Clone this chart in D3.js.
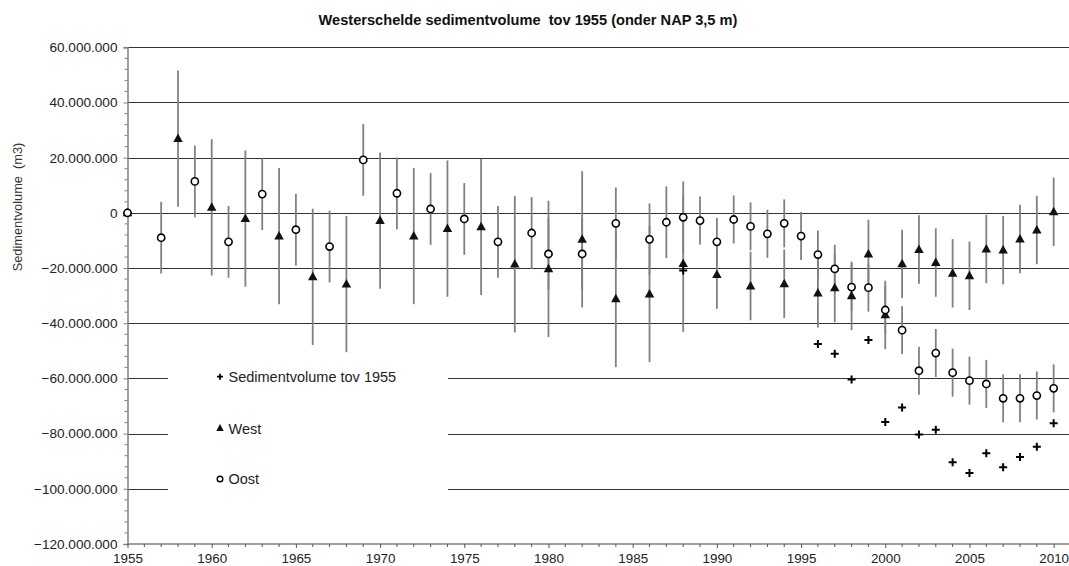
<!DOCTYPE html>
<html>
<head>
<meta charset="utf-8">
<script src="https://cdn.jsdelivr.net/npm/d3@7"></script>
<style>
  html, body { margin: 0; padding: 0; background: #fff; }
  svg { display: block; font-family: "Liberation Sans", Arial, sans-serif; }
</style>
</head>
<body>
<svg id="chart" width="1069" height="566"></svg>
<script>
// ---- data (values in millions of m3) ----
const oostYears = [1955,1957,1959,1961,1963,1965,1967,1969,1971,1973,1975,1977,1979,1980,1982,1984,1986,1987,1988,1989,1990,1991,1992,1993,1994,1995,1996,1997,1998,1999,2000,2001,2002,2003,2004,2005,2006,2007,2008,2009,2010];
const oostValues = [0,-9.0,11.4,-10.5,6.8,-6.1,-12.2,19.2,7.1,1.4,-2.2,-10.5,-7.3,-14.9,-14.9,-3.8,-9.6,-3.4,-1.6,-2.8,-10.5,-2.4,-4.9,-7.6,-3.8,-8.4,-15.1,-20.3,-26.9,-27.1,-35.2,-42.5,-57.2,-50.8,-57.9,-60.8,-62.0,-67.2,-67.2,-66.2,-63.6];
const oostErrors = [0,13,13,13,13,13,13,13,13,13,13,13,13,13,13,13,13,13,13,8.7,8.7,8.7,8.7,8.7,8.7,8.7,8.7,8.7,8.7,8.7,8.7,8.7,8.7,8.7,8.7,8.7,8.7,8.7,8.7,8.7,8.7];

const westYears = [1955,1958,1960,1962,1964,1966,1968,1970,1972,1974,1976,1978,1980,1982,1984,1986,1988,1990,1992,1994,1996,1997,1998,1999,2000,2001,2002,2003,2004,2005,2006,2007,2008,2009,2010];
const westValues = [0,26.9,2.0,-2.1,-8.4,-23.2,-25.8,-2.8,-8.4,-5.7,-5.1,-18.6,-20.3,-9.6,-31.2,-29.4,-18.4,-22.4,-26.5,-25.7,-29.1,-27.2,-30.1,-14.9,-37.0,-18.5,-13.3,-18.0,-21.9,-22.8,-13.1,-13.5,-9.5,-6.2,0.4];
const westErrors = [0,24.7,24.7,24.7,24.7,24.7,24.7,24.7,24.7,24.7,24.7,24.7,24.7,24.7,24.7,24.7,24.7,12.4,12.4,12.4,12.4,12.4,12.4,12.4,12.4,12.4,12.4,12.4,12.4,12.4,12.4,12.4,12.4,12.4,12.4];

const sedYears = [1955,1988,1996,1997,1998,1999,2000,2001,2002,2003,2004,2005,2006,2007,2008,2009,2010];
const sedValues = [0,-20.9,-47.5,-51.1,-60.4,-46.1,-75.8,-70.5,-80.3,-78.6,-90.4,-94.3,-87.1,-92.2,-88.5,-84.8,-76.2];

const yTicks = [-120,-100,-80,-60,-40,-20,0,20,40,60];
const xTicks = [1955,1960,1965,1970,1975,1980,1985,1990,1995,2000,2005,2010];
const legendLabels = ["Sedimentvolume tov 1955","West","Oost"];
const titleText = "Westerschelde sedimentvolume\u00a0\u00a0tov 1955 (onder NAP 3,5 m)";
const yAxisLabel = "Sedimentvolume\u00a0\u00a0(m3)";

// ---- layout ----
const svg = d3.select("#chart");
const x = d3.scaleLinear().domain([1955, 2011]).range([127.5, 1070.5]);
const y = d3.scaleLinear().domain([-120, 60]).range([544, 47.3]);
const left = x(1955), right = 1069;

const loc = d3.formatLocale({decimal: ",", thousands: ".", grouping: [3], currency: ["", ""]});
const fmt = loc.format(",d");

// gridlines
svg.append("g").selectAll("line").data(yTicks.filter(d => d > -120)).join("line")
  .attr("x1", left).attr("x2", right)
  .attr("y1", d => Math.round(y(d)) + 0.5).attr("y2", d => Math.round(y(d)) + 0.5)
  .attr("stroke", "#333").attr("stroke-width", 1.1);

// y axis
const yAxis = d3.axisLeft(y).tickValues(yTicks).tickSize(4).tickPadding(6)
  .tickFormat(d => fmt(d * 1e6));
const gy = svg.append("g").attr("transform", `translate(${left},0)`).call(yAxis);
gy.select(".domain").attr("stroke", "#808080").attr("stroke-width", 1.5);
gy.selectAll(".tick line").attr("stroke", "#808080");
gy.selectAll(".tick text").attr("font-size", 13.6).attr("fill", "#222")
  .attr("font-family", "Liberation Sans, Arial, sans-serif");
// y minor ticks
const yMinor = d3.range(-120, 60.01, 4).filter(v => !yTicks.includes(v));
svg.append("g").selectAll("line").data(yMinor).join("line")
  .attr("x1", left - 3).attr("x2", left)
  .attr("y1", d => y(d)).attr("y2", d => y(d))
  .attr("stroke", "#808080").attr("stroke-width", 1);

// x axis
const xAxis = d3.axisBottom(x).tickValues(xTicks).tickSize(4).tickPadding(5).tickFormat(d3.format("d"));
const gx = svg.append("g").attr("transform", `translate(0,${y(-120)})`).call(xAxis);
gx.select(".domain").attr("stroke", "#808080").attr("stroke-width", 1.5).attr("d", `M${left},0H${right}`);
gx.selectAll(".tick line").attr("stroke", "#555");
gx.selectAll(".tick text").attr("font-size", 13.4).attr("fill", "#222")
  .attr("font-family", "Liberation Sans, Arial, sans-serif");
const xMinor = d3.range(1956, 2011).filter(v => !xTicks.includes(v));
svg.append("g").selectAll("line").data(xMinor).join("line")
  .attr("x1", d => x(d)).attr("x2", d => x(d))
  .attr("y1", y(-120)).attr("y2", y(-120) + 3)
  .attr("stroke", "#555").attr("stroke-width", 1);

// legend background (hides gridlines)
svg.append("rect").attr("x", 168).attr("y", 352).attr("width", 280).attr("height", 146).attr("fill", "#fff");

// error bars
const errG = svg.append("g").attr("stroke", "#808080").attr("stroke-width", 1.8);
function errBars(years, vals, errs) {
  errG.selectAll(null).data(years.map((yr, i) => ({yr, v: vals[i], e: errs[i]})).filter(d => d.e > 0))
    .join("line")
    .attr("x1", d => x(d.yr)).attr("x2", d => x(d.yr))
    .attr("y1", d => y(d.v + d.e)).attr("y2", d => y(d.v - d.e));
}
errBars(westYears, westValues, westErrors);
errBars(oostYears, oostValues, oostErrors);

// markers
const plusPath = s => `M${-s},0H${s}M0,${-s}V${s}`;
const triPath = (w, h) => `M0,${-h * 0.6}L${w / 2},${h * 0.4}L${-w / 2},${h * 0.4}Z`;

svg.append("g").selectAll("path").data(sedYears.map((yr, i) => ({yr, v: sedValues[i]}))).join("path")
  .attr("transform", d => `translate(${x(d.yr)},${y(d.v)})`)
  .attr("d", plusPath(4)).attr("stroke", "#000").attr("stroke-width", 2).attr("fill", "none");

svg.append("g").selectAll("path").data(westYears.map((yr, i) => ({yr, v: westValues[i]}))).join("path")
  .attr("transform", d => `translate(${x(d.yr)},${y(d.v)})`)
  .attr("d", triPath(9.5, 8.5)).attr("fill", "#111");

svg.append("g").selectAll("circle").data(oostYears.map((yr, i) => ({yr, v: oostValues[i]}))).join("circle")
  .attr("cx", d => x(d.yr)).attr("cy", d => y(d.v)).attr("r", 3.6)
  .attr("fill", "#fff").attr("stroke", "#000").attr("stroke-width", 1.6);

// legend
const legY = [376.7, 428.3, 479];
const lg = svg.append("g");
lg.append("path").attr("transform", `translate(220,${legY[0]})`).attr("d", plusPath(3))
  .attr("stroke", "#000").attr("stroke-width", 1.8);
lg.append("path").attr("transform", `translate(220,${legY[1]})`).attr("d", triPath(7.5, 7)).attr("fill", "#111");
lg.append("circle").attr("cx", 220).attr("cy", legY[2]).attr("r", 2.8)
  .attr("fill", "#fff").attr("stroke", "#000").attr("stroke-width", 1.4);
lg.selectAll("text").data(legendLabels).join("text")
  .attr("x", 228.5).attr("y", (d, i) => legY[i] + 5.2)
  .attr("font-size", 14.5).attr("fill", "#222").text(d => d);

// title
svg.append("text").attr("x", 528).attr("y", 25).attr("text-anchor", "middle")
  .attr("font-size", 14.6).attr("font-weight", "bold").attr("fill", "#111").text(titleText);

// y axis label
svg.append("text").attr("transform", "translate(22,207) rotate(-90)").attr("text-anchor", "middle")
  .attr("font-size", 12.8).attr("fill", "#333").text(yAxisLabel);
</script>
</body>
</html>
